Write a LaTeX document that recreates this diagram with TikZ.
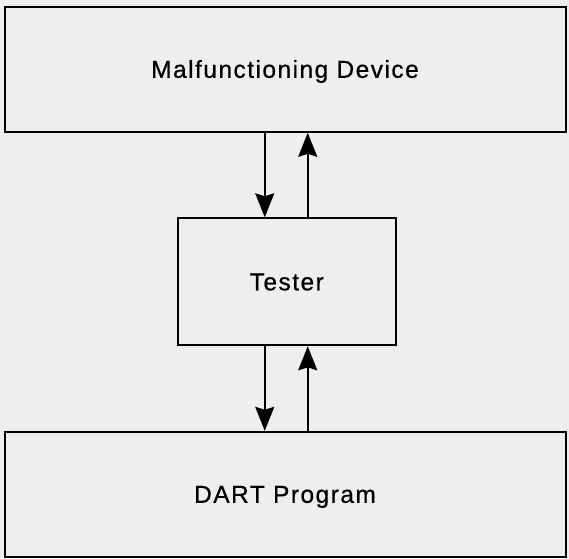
\documentclass[tikz,border=0pt]{standalone}
\usepackage{fontspec}
\setmainfont{Liberation Sans}[LetterSpace=6, FakeBold=0.6]
\usetikzlibrary{arrows.meta, positioning}

\definecolor{paper}{RGB}{238,238,236}

\tikzset{
    block/.style={draw, line width=2pt, inner sep=0pt,
        font=\fontsize{24.5}{28}\selectfont, text height=17pt, text depth=-3.5pt},
    wide/.style={block, minimum width=561pt, minimum height=125pt},
    flow/.style={line width=2pt, -{Stealth[length=24pt, width=19pt, inset=3pt]}}
}

\begin{document}
\begin{tikzpicture}[x=1pt, y=-1pt, node distance=84.5pt]
    \fill[paper] (0,0) rectangle (569,558);
    \useasboundingbox (0,0) rectangle (569,558);

    % Nodes
    \node[wide] (device) at (285,69.3) {Malfunctioning Device};
    \node[block, minimum width=218.5pt, minimum height=127pt, xshift=1.75pt]
        (tester) [below=of device] {Tester};
    \node[wide] (dart) [below=of tester, xshift=-1.75pt] {DART Program};

    % Arrows
    \draw[flow] ([xshift=-22pt]tester.north |- device.south) -- ([xshift=-22pt]tester.north);
    \draw[flow] ([xshift=21pt]tester.north) -- ([xshift=21pt]tester.north |- device.south);
    \draw[flow] ([xshift=-22pt]tester.south) -- ([xshift=-22pt]tester.south |- dart.north);
    \draw[flow] ([xshift=21pt]tester.south |- dart.north) -- ([xshift=21pt]tester.south);
\end{tikzpicture}
\end{document}
